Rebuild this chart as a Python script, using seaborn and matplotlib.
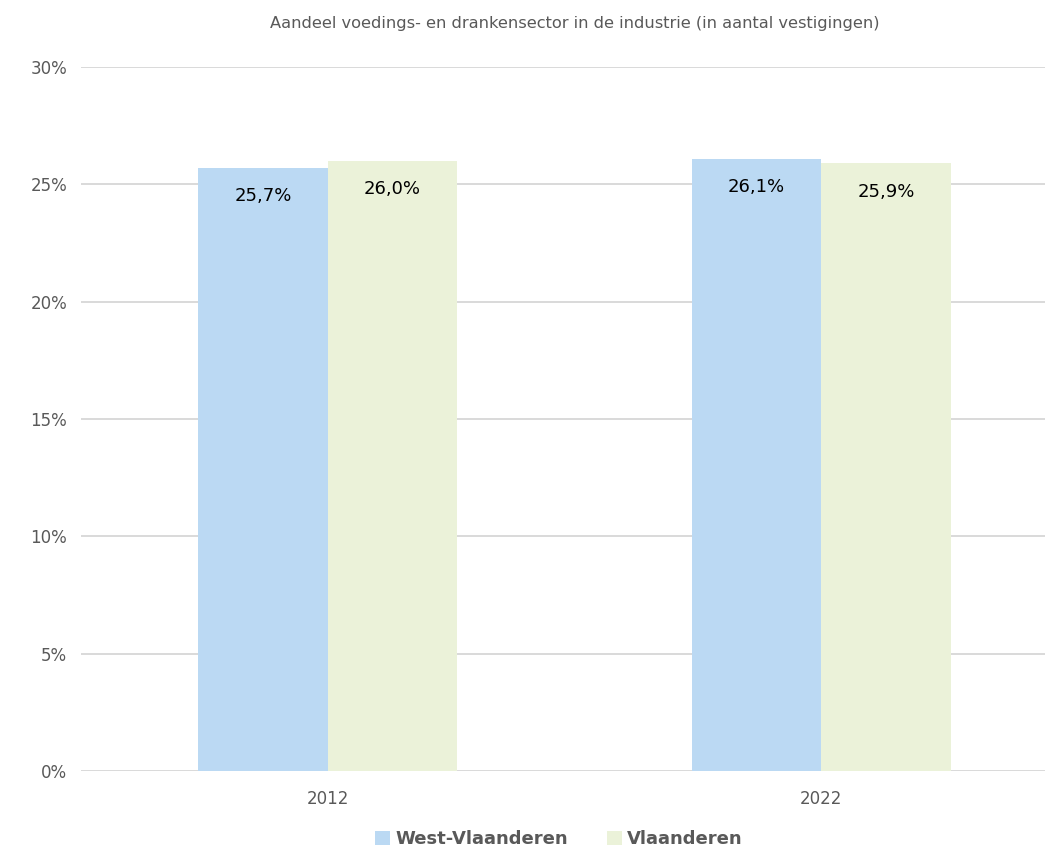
import matplotlib
matplotlib.use('Agg')
import matplotlib.pyplot as plt
import seaborn as sns
import pandas as pd

jaren = ['2012', '2022']
regios = ['West-Vlaanderen', 'Vlaanderen']
west_vl = [25.7, 26.1]
vlaanderen = [26.0, 25.9]
kleuren = ['#BBD9F3', '#EBF2D9']

df = pd.DataFrame({
    'jaar': jaren * 2,
    'regio': [regios[0]] * 2 + [regios[1]] * 2,
    'aandeel': [v / 100 for v in west_vl + vlaanderen],
})

sns.set_style('white')
plt.rcParams['font.family'] = ['DejaVu Sans']

fig = plt.figure(figsize=(10.45, 8.65), dpi=100)
ax = fig.add_axes([81 / 1045, 94 / 865, 987 / 1045, 704 / 865])

sns.barplot(data=df, x='jaar', y='aandeel', hue='regio', palette=kleuren,
            width=0.525, gap=0, saturation=1, linewidth=0, ax=ax, legend=True, zorder=2)

ax.set_ylim(0, 0.30)
ax.set_xlim(-0.5, 1.5)
ax.set_yticks([0, 0.05, 0.10, 0.15, 0.20, 0.25, 0.30])
ax.set_yticklabels(['0%', '5%', '10%', '15%', '20%', '25%', '30%'])
ax.yaxis.grid(True, color='#D9D9D9', lw=1.4, zorder=0)
ax.set_axisbelow(True)
for s in ax.spines.values():
    s.set_visible(False)
ax.tick_params(axis='both', length=0, labelsize=12, colors='#595959', pad=10)
ax.tick_params(axis='x', pad=14)
ax.set_xlabel('')
ax.set_ylabel('')

for cont, vals in zip(ax.containers, [west_vl, vlaanderen]):
    ax.bar_label(cont, labels=[f'{v:.1f}%'.replace('.', ',') for v in vals],
                 padding=-27, fontsize=13, color='black')

ax.set_title('Aandeel voedings- en drankensector in de industrie (in aantal vestigingen)',
             fontsize=11.7, color='#595959', pad=28)

ax.legend_.remove()
fig.legend(*ax.get_legend_handles_labels(), loc='center', bbox_to_anchor=(0.535, 0.03),
           ncol=2, frameon=False, handlelength=0.8, handleheight=0.8, handletextpad=0.3,
           columnspacing=2.2, prop={'weight': 'bold', 'size': 13}, labelcolor='#595959')

fig.savefig('out.png', dpi=100)
